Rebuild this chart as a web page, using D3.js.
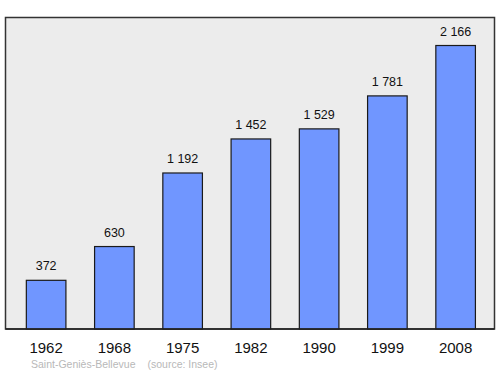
<!DOCTYPE html>
<html lang="fr">
  <head>
    <meta charset="UTF-8" />
    <title>Population Saint-Geniès-Bellevue</title>
    <style>
      body {
        margin: 0;
        background: #fff;
        font-family: "Liberation Sans", Arial, sans-serif;
      }
      .bar {
        fill: #7096ff;
        stroke: #1a1a1a;
        stroke-width: 1.2px;
      }
      .value {
        font-size: 12.5px;
        fill: #111;
        text-anchor: middle;
      }
      .year {
        font-size: 15px;
        fill: #111;
        text-anchor: middle;
      }
      .source {
        font-size: 10.5px;
        fill: #b8b8b8;
      }
    </style>
  </head>
  <body>
    <svg width="500" height="374"></svg>
    <script src="https://d3js.org/d3.v7.min.js"></script>
    <script>
      const years = ["1962", "1968", "1975", "1982", "1990", "1999", "2008"];
      const population = [372, 630, 1192, 1452, 1529, 1781, 2166];
      const valueLabels = ["372", "630", "1 192", "1 452", "1 529", "1 781", "2 166"];

      const svg = d3.select("svg");
      const panel = { left: 5.5, top: 17.5, right: 494.5, bottom: 329 };

      svg
        .append("rect")
        .attr("x", panel.left)
        .attr("y", panel.top)
        .attr("width", panel.right - panel.left)
        .attr("height", panel.bottom - panel.top)
        .attr("fill", "#ececec")
        .attr("stroke", "#333")
        .attr("stroke-width", 1.5);

      const x = d3
        .scaleBand()
        .domain(years)
        .range([12, 489.75])
        .paddingInner(0.42)
        .paddingOuter(0.21);

      const y = d3.scaleLinear().domain([0, 2380]).range([panel.bottom, panel.top]);

      const g = svg.append("g");

      g.selectAll("rect.bar")
        .data(years)
        .join("rect")
        .attr("class", "bar")
        .attr("x", (d) => x(d))
        .attr("y", (d, i) => y(population[i]))
        .attr("width", x.bandwidth())
        .attr("height", (d, i) => panel.bottom - y(population[i]));

      g.selectAll("text.value")
        .data(years)
        .join("text")
        .attr("class", "value")
        .attr("x", (d) => x(d) + x.bandwidth() / 2)
        .attr("y", (d, i) => y(population[i]) - 10)
        .text((d, i) => valueLabels[i]);

      // base line of the panel drawn again over the bars
      svg
        .append("line")
        .attr("x1", panel.left)
        .attr("x2", panel.right)
        .attr("y1", panel.bottom)
        .attr("y2", panel.bottom)
        .attr("stroke", "#222")
        .attr("stroke-width", 1.5);

      svg
        .selectAll("text.year")
        .data(years)
        .join("text")
        .attr("class", "year")
        .attr("x", (d) => x(d) + x.bandwidth() / 2)
        .attr("y", 353)
        .text((d) => d);

      svg.append("text").attr("class", "source").attr("x", 31).attr("y", 368).text("Saint-Geniès-Bellevue");
      svg.append("text").attr("class", "source").attr("x", 147.5).attr("y", 368).text("(source: Insee)");
    </script>
  </body>
</html>
